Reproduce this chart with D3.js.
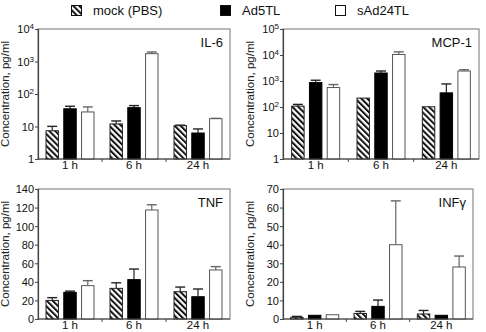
<!DOCTYPE html>
<html>
<head>
<meta charset="utf-8">
<script src="https://cdn.jsdelivr.net/npm/d3@7"></script>
<style>
  body { margin: 0; background: #fff; }
  svg { display: block; font-family: Arial, "Liberation Sans", sans-serif; }
</style>
</head>
<body>
<div id="chart"></div>
<script>
// cytokine levels per time point, three treatments

const groups = ["1 h", "6 h", "24 h"];
const series = ["mock (PBS)", "Ad5TL", "sAd24TL"];

// IL-6
const il6Mock = [7.4, 12, 10.6],   il6MockSd = [2.7, 2.8, 0.4];
const il6Ad5  = [35, 38, 6.3],     il6Ad5Sd  = [7, 6, 2.1];
const il6sAd  = [28, 1740, 17.4],  il6sAdSd  = [12, 220, 0.4];

// MCP-1
const mcpMock = [108, 220, 102],    mcpMockSd = [18, 0, 0];
const mcpAd5  = [870, 2030, 350],   mcpAd5Sd  = [200, 390, 420];
const mcpsAd  = [560, 10500, 2420], mcpsAdSd  = [170, 2700, 280];

// TNF
const tnfMock = [20, 33, 29.4],      tnfMockSd = [3, 6, 5];
const tnfAd5  = [28.7, 42.4, 24],    tnfAd5Sd  = [1.3, 11.4, 8.3];
const tnfsAd  = [35.9, 117.4, 52.8], tnfsAdSd  = [5.4, 5.6, 3.6];

// INFγ
const infMock = [0.9, 3.0, 2.7], infMockSd = [0.5, 1.1, 1.9];
const infAd5  = [2.0, 6.8, 2.0], infAd5Sd  = [0, 3.4, 0];
const infsAd  = [2.3, 40, 28],   infsAdSd  = [0, 23.6, 5.9];

const logTicks4 = [1, 10, 100, 1000, 10000];
const logTicks5 = [1, 10, 100, 1000, 10000, 100000];
const tnfTicks  = [0, 20, 40, 60, 80, 100, 120, 140];
const infTicks  = [0, 10, 20, 30, 40, 50, 60, 70];

const panels = [
  { title: "IL-6",  log: true,  domain: [1, 1e4], ticks: logTicks4,
    means: [il6Mock, il6Ad5, il6sAd], sds: [il6MockSd, il6Ad5Sd, il6sAdSd],
    box: { l: 38, t: 29, r: 230, b: 159 } },
  { title: "MCP-1", log: true,  domain: [1, 1e5], ticks: logTicks5,
    means: [mcpMock, mcpAd5, mcpsAd], sds: [mcpMockSd, mcpAd5Sd, mcpsAdSd],
    box: { l: 283, t: 29, r: 479, b: 159 } },
  { title: "TNF",   log: false, domain: [0, 140], ticks: tnfTicks,
    means: [tnfMock, tnfAd5, tnfsAd], sds: [tnfMockSd, tnfAd5Sd, tnfsAdSd],
    box: { l: 38, t: 189, r: 230, b: 319 } },
  { title: "INF\u03b3", log: false, domain: [0, 70], ticks: infTicks,
    means: [infMock, infAd5, infsAd], sds: [infMockSd, infAd5Sd, infsAdSd],
    box: { l: 283, t: 189, r: 473, b: 319 } }
];

const W = 486, H = 332;
const svg = d3.select("#chart").append("svg").attr("width", W).attr("height", H);

// hatch pattern
svg.append("defs").append("pattern")
  .attr("id", "hatch")
  .attr("patternUnits", "userSpaceOnUse")
  .attr("width", 4.2).attr("height", 4.2)
  .attr("patternTransform", "rotate(-45)")
  .call(p => {
    p.append("rect").attr("width", 4.2).attr("height", 4.2).attr("fill", "#fff");
    p.append("rect").attr("width", 2).attr("height", 4.2).attr("fill", "#111");
  });

const fills   = ["url(#hatch)", "#000", "#fff"];
const strokes = ["#222", "#000", "#555"];
const errCol  = ["#222", "#222", "#666"];

// legend
const legendX = [71, 220, 335];
series.forEach((s, i) => {
  const g = svg.append("g").attr("transform", `translate(${legendX[i]},5)`);
  g.append("rect").attr("x", 0.5).attr("y", 0.5).attr("width", 10).attr("height", 10)
    .attr("fill", fills[i]).attr("stroke", "#111").attr("stroke-width", 1);
  g.append("text").attr("x", 22).attr("y", 10).attr("font-size", 13).attr("fill", "#111").text(s);
});

panels.forEach(p => {
  const { l, t, r, b } = p.box;
  const g = svg.append("g");

  const x = d3.scaleBand().domain(groups).range([l, r]);
  const y = (p.log ? d3.scaleLog() : d3.scaleLinear()).domain(p.domain).range([b, t]);
  const inner = d3.scaleBand().domain(series).range([-24, 24]).paddingInner(0.3);

  // grey frame
  g.append("rect").attr("x", l).attr("y", t).attr("width", r - l).attr("height", b - t)
    .attr("fill", "none").attr("stroke", "#8a8a8a").attr("stroke-width", 1.2);

  // bars + error bars
  series.forEach((s, si) => {
    groups.forEach((gname, gi) => {
      const m = p.means[si][gi];
      const sd = p.sds[si][gi];
      const bx = x(gname) + x.bandwidth() / 2 + inner(s);
      const bw = inner.bandwidth();
      const cx = bx + bw / 2;
      if (sd > 0) {
        g.append("line").attr("x1", cx).attr("x2", cx)
          .attr("y1", y(m)).attr("y2", y(m + sd))
          .attr("stroke", errCol[si]).attr("stroke-width", 1.2);
        g.append("line").attr("x1", cx - bw * 0.4).attr("x2", cx + bw * 0.4)
          .attr("y1", y(m + sd)).attr("y2", y(m + sd))
          .attr("stroke", errCol[si]).attr("stroke-width", 1.4);
      }
      g.append("rect").attr("x", bx).attr("y", y(m))
        .attr("width", bw).attr("height", b - y(m))
        .attr("fill", fills[si]).attr("stroke", strokes[si]).attr("stroke-width", 1);
    });
  });

  // y axis
  const yAxis = d3.axisLeft(y).tickValues(p.ticks).tickSize(3).tickPadding(2).tickFormat("");
  const ya = g.append("g").attr("transform", `translate(${l},0)`).call(yAxis);
  ya.select(".domain").attr("stroke", "#444").attr("stroke-width", 1.2);
  ya.selectAll(".tick line").attr("stroke", "#444");
  ya.selectAll(".tick").each(function(v) {
    const txt = d3.select(this).append("text")
      .attr("x", -4).attr("dy", "0.35em").attr("text-anchor", "end")
      .attr("font-size", 11).attr("fill", "#111");
    if (p.log && v >= 100) {
      txt.append("tspan").text("10");
      txt.append("tspan").attr("dy", "-0.5em").attr("font-size", 8).text(Math.round(Math.log10(v)));
    } else {
      txt.text(v);
    }
  });

  // x axis with ticks at group boundaries
  g.append("line").attr("x1", l).attr("x2", r).attr("y1", b).attr("y2", b)
    .attr("stroke", "#444").attr("stroke-width", 1.2);
  groups.slice(1).forEach(gname => {
    g.append("line").attr("x1", x(gname)).attr("x2", x(gname))
      .attr("y1", b).attr("y2", b + 3).attr("stroke", "#444");
  });
  groups.forEach(gname => {
    g.append("text").attr("x", x(gname) + x.bandwidth() / 2).attr("y", b + 10)
      .attr("text-anchor", "middle").attr("font-size", 11.5).attr("fill", "#111").text(gname);
  });

  // title
  g.append("text").attr("x", r - 7).attr("y", t + 18).attr("text-anchor", "end")
    .attr("font-size", 13).attr("fill", "#111").text(p.title);

  // y label
  g.append("text")
    .attr("transform", `translate(${l - 29},${(t + b) / 2}) rotate(-90)`)
    .attr("text-anchor", "middle").attr("font-size", 11.5).attr("fill", "#222")
    .text("Concentration, pg/ml");
});
</script>
</body>
</html>
